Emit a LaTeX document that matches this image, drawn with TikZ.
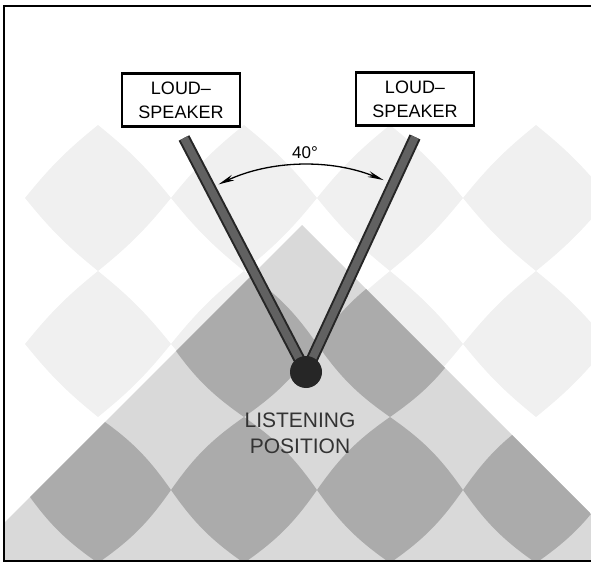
\documentclass[tikz,border=0pt]{standalone}
\usepackage{fontspec}
\setmainfont{Liberation Sans}
\usetikzlibrary{arrows.meta,positioning}

\begin{document}
\begin{tikzpicture}[x=1pt,y=1pt,
		lobe/.style={fill=black!33},
		faintlobe/.style={fill=black!6},
		field/.style={fill=black!15},
		leg/.style={draw=black!85,line width=2pt,double=black!62,double distance=8pt},
		spkbox/.style={draw,line width=2.4pt,fill=white,minimum width=118pt,minimum height=53pt,
			inner sep=0pt,align=center,font=\fontsize{18}{24}\selectfont},
		frameline/.style={line width=2pt}]
				\useasboundingbox (0,0) rectangle (591,563);
				
				\begin{scope}
				\clip (4,2) rectangle (591,557);
				\foreach \cx in {98,244,390,536}
					\foreach \cy in {219,365}
						\fill[faintlobe] (\cx-73,\cy) to[bend right=6] (\cx,\cy-73)
						to[bend right=6] (\cx+73,\cy) to[bend right=6] (\cx,\cy+73)
						to[bend right=6] (\cx-73,\cy) -- cycle;
				
				\clip (302,338) -- (700,-60) -- (-96,-60) -- cycle;
				\fill[field] (0,0) rectangle (591,338);
				\foreach \cx/\cy in {98/73,244/73,390/73,536/73,244/219,390/219}
					\fill[lobe] (\cx-73,\cy) to[bend right=10] (\cx,\cy-73)
					to[bend right=10] (\cx+73,\cy) to[bend right=10] (\cx,\cy+73)
					to[bend right=10] (\cx-73,\cy) -- cycle;
				\end{scope}
				
				\coordinate (lefttop) at (184,425);
				\coordinate (righttop) at (415,426);
				\coordinate (seat) at (306,191);
				
				\draw[leg] (lefttop) -- (seat);
				\draw[leg] (righttop) -- (seat);
				\fill[black!85] (seat) circle (16);
				
				\draw[line width=1.3pt,{Stealth[length=16pt,width=6pt,fill=black!50]}-{Stealth[length=16pt,width=6pt,fill=black!50]}]
				([shift={(115:207)}]seat) arc[start angle=115,end angle=68,radius=207];
				\node[font=\fontsize{17}{20}\selectfont] (angle) at (305,410) {40°};
				
				\node[spkbox] (leftspk) at (181,463) {LOUD–\\SPEAKER};
				\node[spkbox] (rightspk) at (415,464) {LOUD–\\SPEAKER};
				
				\node[text=black!80,align=center,font=\fontsize{21}{26}\selectfont] (listen) at (300,130) {LISTENING\\POSITION};
				
				\draw[frameline] (591,557) -- (4,557) -- (4,2) -- (591,2);
			\end{tikzpicture}
\end{document}
